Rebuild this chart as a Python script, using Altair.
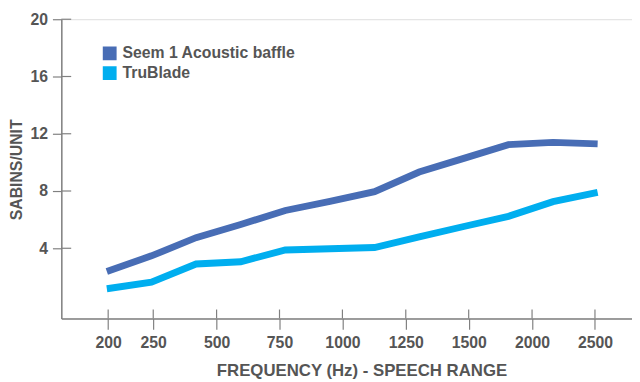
import altair as alt
import pandas as pd

# Data: 12 one-third-octave bands (sabins/unit)
band_index = list(range(12))
seem1 = [2.37, 3.47, 4.74, 5.66, 6.64, 7.28, 7.95, 9.33, 10.28, 11.24, 11.40, 11.29]
trublade = [1.17, 1.63, 2.90, 3.06, 3.88, 3.97, 4.05, 4.79, 5.52, 6.23, 7.26, 7.91]
series_names = ["Seem 1 Acoustic baffle", "TruBlade"]
series_colors = ["#486db5", "#00aeef"]

x_tick_labels = ["200", "250", "500", "750", "1000", "1250", "1500", "2000", "2500"]
x_tick_pos = [0.03, 1.04, 2.46, 3.87, 5.28, 6.70, 8.11, 9.53, 10.94]
y_ticks = [4, 8, 12, 16, 20]

rows = []
for name, vals in zip(series_names, [seem1, trublade]):
    for i, v in zip(band_index, vals):
        rows.append({"band": i, "value": v, "series": name})
df = pd.DataFrame(rows)
ydf = pd.DataFrame({"v": y_ticks})
xdf = pd.DataFrame({"p": x_tick_pos})

W, H = 578, 303
FONT = "Liberation Sans"
TXT = "#555555"
AX = "#808080"

xdom = [-1.02, 11.77]
ydom = [-0.9, 20]

label_expr = "[" + ",".join("'%s'" % s for s in x_tick_labels) + "][indexof([" + ",".join(str(p) for p in x_tick_pos) + "], datum.value)]"

x_enc = alt.X(
    "band:Q",
    scale=alt.Scale(domain=xdom, nice=False, zero=False),
    axis=alt.Axis(
        values=x_tick_pos, labelExpr=label_expr, grid=False,
        tickSize=11, tickColor=AX, domainColor=AX, tickWidth=1.2, domainWidth=1.5,
        labelFont=FONT, labelFontSize=16, labelFontWeight="bold", labelColor=TXT,
        labelPadding=5, labelFlush=False,
        title="FREQUENCY (Hz) - SPEECH RANGE", titleFont=FONT, titleFontSize=17,
        titleFontWeight="bold", titleColor=TXT, titleX=304, titleY=53,
        titleBaseline="middle", titleAlign="center",
    ),
)
y_enc = alt.Y(
    "value:Q",
    scale=alt.Scale(domain=ydom, nice=False, zero=False),
    axis=alt.Axis(
        values=y_ticks, grid=False, tickSize=9, tickColor=AX, domainColor=AX,
        tickWidth=1.2, domainWidth=1.5,
        labelFont=FONT, labelFontSize=16, labelFontWeight="bold", labelColor=TXT,
        labelPadding=5, labelFlush=False,
        title="SABINS/UNIT", titleFont=FONT, titleFontSize=16, titleFontWeight="bold",
        titleColor=TXT, titleX=-45, titleY=152, titleAngle=270,
        titleBaseline="middle", titleAlign="center",
    ),
)

lines = alt.Chart(df).mark_line(strokeWidth=7, strokeJoin="miter").encode(
    x=x_enc,
    y=y_enc,
    color=alt.Color(
        "series:N",
        scale=alt.Scale(domain=series_names, range=series_colors),
        legend=alt.Legend(
            orient="none", legendX=41, legendY=26.5, title=None, padding=0,
            symbolType="square", symbolSize=49, symbolStrokeWidth=7,
            labelFont=FONT, labelFontSize=16, labelFontWeight="bold", labelColor=TXT,
            labelOffset=5, rowPadding=4, clipHeight=16, labelLimit=0,
        ),
    ),
    detail="series:N",
)

ytick_in = alt.Chart(ydf).mark_rule(color=AX, strokeWidth=1.2).encode(
    y=alt.Y("v:Q", scale=alt.Scale(domain=ydom, nice=False, zero=False)),
    x=alt.value(0), x2=alt.value(10),
)
xtick_in = alt.Chart(xdf).mark_rule(color=AX, strokeWidth=1.2).encode(
    x=alt.X("p:Q", scale=alt.Scale(domain=xdom, nice=False, zero=False)),
    y=alt.value(H), y2=alt.value(H - 9),
)

chart = alt.layer(lines, ytick_in, xtick_in).properties(
    width=W, height=H,
    autosize=alt.AutoSizeParams(type="none"),
    padding={"left": 54, "top": 9, "right": 0, "bottom": 60},
).configure_view(stroke=None).configure(background="white")

chart.save("out.html", embed_options={"renderer": "svg", "actions": False})
